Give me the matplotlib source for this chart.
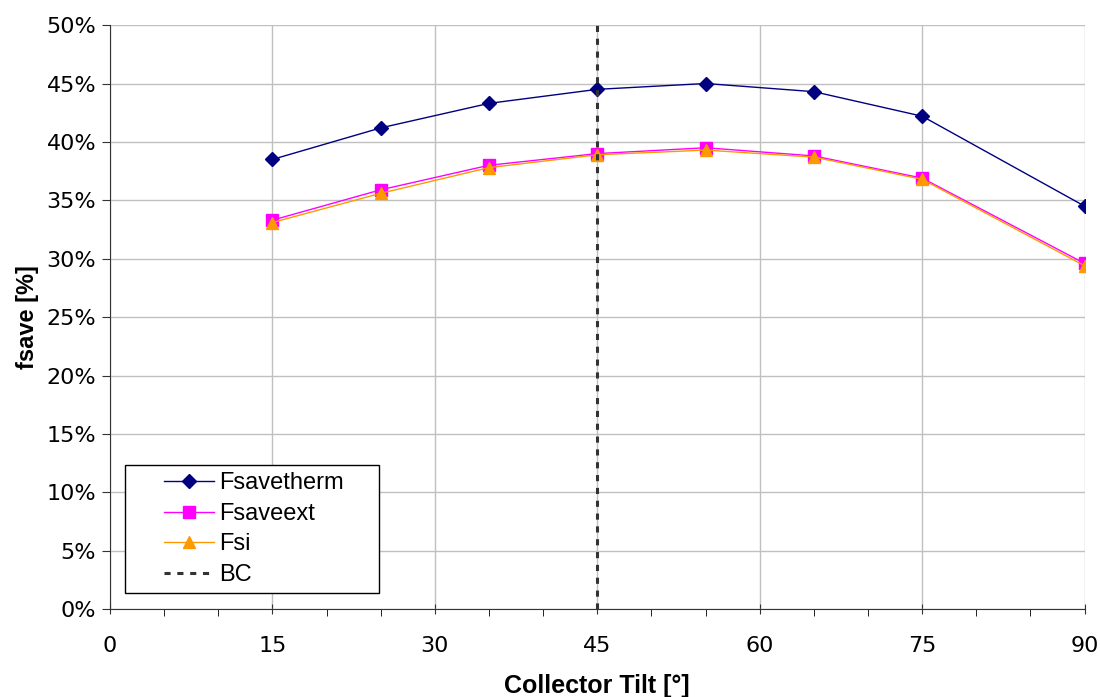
import matplotlib.pyplot as plt
from matplotlib.patches import Rectangle
from matplotlib.ticker import MultipleLocator, FuncFormatter

# Data
tilt = [15, 25, 35, 45, 55, 65, 75, 90]
fsavetherm = [38.5, 41.2, 43.3, 44.5, 45.0, 44.3, 42.2, 34.5]
fsaveext = [33.3, 35.9, 38.0, 39.0, 39.5, 38.8, 36.9, 29.6]
fsi = [33.1, 35.6, 37.8, 38.9, 39.3, 38.7, 36.8, 29.4]
bc_tilt = 45

fig = plt.figure(figsize=(11, 6.97), dpi=100)
ax = fig.add_axes([0.1, 0.126, 0.886, 0.838])

ax.plot(tilt, fsavetherm, color='#000080', lw=1, marker='D', ms=7, label='Fsavetherm')
ax.plot(tilt, fsaveext, color='#ff00ff', lw=1, marker='s', ms=8, label='Fsaveext')
ax.plot(tilt, fsi, color='#ff9900', lw=1, marker='^', ms=8, label='Fsi')
ax.axvline(bc_tilt, color='#333333', lw=2.2, ls=(0, (2, 2.2)), label='BC')

ax.set_xlim(0, 90)
ax.set_ylim(0, 50)
ax.xaxis.set_major_locator(MultipleLocator(15))
ax.xaxis.set_minor_locator(MultipleLocator(5))
ax.yaxis.set_major_locator(MultipleLocator(5))
ax.yaxis.set_major_formatter(FuncFormatter(lambda v, p: '%d%%' % v))
ax.grid(True, color='#c0c0c0', lw=1)
ax.set_axisbelow(True)

for s in ['top', 'right']:
    ax.spines[s].set_visible(False)
ax.spines['left'].set_color('#333333')
ax.spines['bottom'].set_color('#333333')
ax.tick_params(axis='both', labelsize=16, color='#333333', direction='out')
ax.tick_params(axis='x', which='major', length=7, direction='inout', pad=16)
ax.tick_params(axis='x', which='minor', length=5)
ax.tick_params(axis='y', length=6, pad=4)

ax.set_xlabel('Collector Tilt [°]', fontsize=18, fontweight='bold', family='Liberation Sans', labelpad=13)
ax.set_ylabel('fsave [%]', fontsize=17, fontweight='bold', family='Liberation Sans', labelpad=5)

# legend box is wider than the entries, so the frame is drawn by hand
ax.add_patch(Rectangle((0.0154, 0.0274), 0.2605, 0.2192, transform=ax.transAxes,
                       facecolor='white', edgecolor='black', lw=1, zorder=4))
leg = ax.legend(loc='lower left', bbox_to_anchor=(0.0554, 0.04), frameon=False,
                handlelength=2.1, handletextpad=0.25, borderpad=0, borderaxespad=0,
                labelspacing=0.36, prop={'family': 'Liberation Sans', 'size': 17})
leg.set_zorder(5)

fig.savefig('out.png', dpi=100)
